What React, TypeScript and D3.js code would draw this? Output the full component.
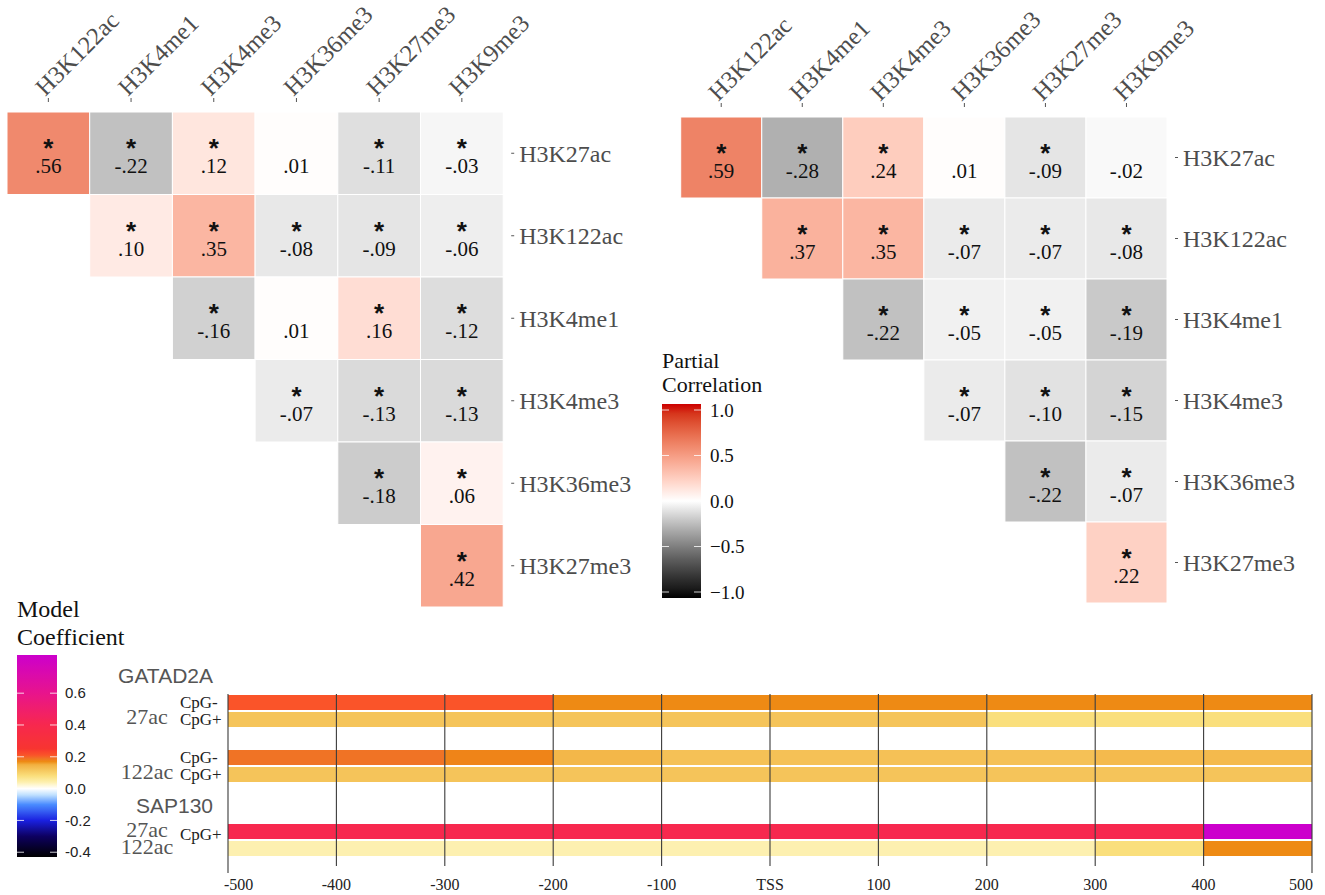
import React from "react";
import * as d3 from "d3";

// ---------- DATA ----------
const rowLabels = ["H3K27ac", "H3K122ac", "H3K4me1", "H3K4me3", "H3K36me3", "H3K27me3"];
const colLabels = ["H3K122ac", "H3K4me1", "H3K4me3", "H3K36me3", "H3K27me3", "H3K9me3"];

// upper-triangular rows: row i starts at column i
const leftValues = [
  [0.56, -0.22, 0.12, 0.01, -0.11, -0.03],
  [0.10, 0.35, -0.08, -0.09, -0.06],
  [-0.16, 0.01, 0.16, -0.12],
  [-0.07, -0.13, -0.13],
  [-0.18, 0.06],
  [0.42],
];
const leftSig = [
  [1, 1, 1, 0, 1, 1],
  [1, 1, 1, 1, 1],
  [1, 0, 1, 1],
  [1, 1, 1],
  [1, 1],
  [1],
];
const rightValues = [
  [0.59, -0.28, 0.24, 0.01, -0.09, -0.02],
  [0.37, 0.35, -0.07, -0.07, -0.08],
  [-0.22, -0.05, -0.05, -0.19],
  [-0.07, -0.10, -0.15],
  [-0.22, -0.07],
  [0.22],
];
const rightSig = [
  [1, 1, 1, 0, 1, 0],
  [1, 1, 1, 1, 1],
  [1, 1, 1, 1],
  [1, 1, 1],
  [1, 1],
  [1],
];

const corrLegendTicks = [1, 0.5, 0, -0.5, -1];
const corrLegendLabels = ["1.0", "0.5", "0.0", "\u22120.5", "\u22121.0"];

// bottom panel: positions relative to TSS
const positionTicks = [-500, -400, -300, -200, -100, 0, 100, 200, 300, 400, 500];
const positionLabels = ["-500", "-400", "-300", "-200", "-100", "TSS", "100", "200", "300", "400", "500"];

// coefficients for each 100bp bin from -500 to 500
const gatad2a27acCpGminus = [0.21, 0.21, 0.21, 0.17, 0.17, 0.17, 0.17, 0.17, 0.17, 0.17];
const gatad2a27acCpGplus = [0.12, 0.12, 0.12, 0.12, 0.12, 0.12, 0.12, 0.08, 0.08, 0.08];
const gatad2a122acCpGminus = [0.19, 0.19, 0.175, 0.14, 0.125, 0.125, 0.125, 0.125, 0.135, 0.135];
const gatad2a122acCpGplus = [0.12, 0.12, 0.12, 0.12, 0.12, 0.12, 0.12, 0.12, 0.12, 0.12];
const sap130_27acCpGplus = [0.4, 0.4, 0.4, 0.4, 0.4, 0.4, 0.4, 0.4, 0.4, 0.84];
const sap130_122acCpGplus = [0.04, 0.04, 0.04, 0.04, 0.04, 0.04, 0.04, 0.04, 0.08, 0.17];

const coefLegendTicks = [-0.4, -0.2, 0, 0.2, 0.4, 0.6];
const coefLegendLabels = ["-0.4", "-0.2", "0.0", "0.2", "0.4", "0.6"];
const coefDomain = [-0.43, 0.84];

const coefStops = [-0.43, -0.3, -0.2, -0.1, -0.04, 0, 0.04, 0.08, 0.12, 0.15, 0.17, 0.19, 0.21, 0.25, 0.4, 0.6, 0.84];
const coefColors = [
  "#000000", "#0d0060", "#1a20e0", "#4a8cff", "#bfe0ff", "#ffffff",
  "#fdf0b0", "#fadf7c", "#f5c45a", "#f2b040", "#ee8a14", "#f07325",
  "#fa5429", "#f73530", "#f7284e", "#e8148c", "#cc00cc",
];

// ---------- SCALES ----------
const corrColor = d3
  .scaleLinear<string>()
  .domain([-1, 0, 1])
  .range(["#000000", "#ffffff", "#cc0000"])
  .interpolate(d3.interpolateLab);

const coefColor = d3.scaleLinear<string>().domain(coefStops).range(coefColors).clamp(true);

const fmt = (v: number) => d3.format(".2f")(v).replace("\u2212", "-").replace("0.", ".");

const SERIF = "'Liberation Serif', 'Times New Roman', serif";
const SANS = "'Liberation Sans', Arial, sans-serif";
const LABEL_GREY = "#4d4d4d";

type HeatProps = {
  x0: number;
  y0: number;
  cell: number;
  cellH: number;
  values: number[][];
  sig: number[][];
};

function Heatmap({ x0, y0, cell, cellH, values, sig }: HeatProps) {
  const xs = d3.scaleBand<string>().domain(colLabels).range([x0, x0 + cell * 6]);
  const ys = d3.scaleBand<string>().domain(rowLabels).range([y0, y0 + cellH * 6]);
  const right = x0 + cell * 6;
  const tickY = y0 - 12;
  return (
    <g>
      {values.map((row, i) =>
        row.map((v, k) => {
          const j = i + k;
          const x = xs(colLabels[j])!;
          const y = ys(rowLabels[i])!;
          const cx = x + xs.bandwidth() / 2;
          const cy = y + ys.bandwidth() / 2;
          return (
            <g key={`${i}-${j}`}>
              <rect x={x} y={y} width={xs.bandwidth()} height={ys.bandwidth()} fill={corrColor(v)} stroke="#ffffff" strokeWidth={1} />
              <text textAnchor="middle" fill="#111">
                {sig[i][k] ? (
                  <tspan x={cx} y={cy + 4} fontFamily={SANS} fontWeight="bold" fontSize={26}>
                    *
                  </tspan>
                ) : null}
                <tspan x={cx} y={cy + 20} fontFamily={SERIF} fontSize={21}>
                  {fmt(v)}
                </tspan>
              </text>
            </g>
          );
        })
      )}
      {colLabels.map((c) => {
        const cx = xs(c)! + xs.bandwidth() / 2;
        return (
          <g key={c}>
            <line x1={cx} x2={cx} y1={tickY - 2} y2={tickY + 2} stroke="#555" strokeWidth={1} />
            <text
              transform={`translate(${cx - 3},${tickY - 3}) rotate(-45)`}
              fontFamily={SERIF}
              fontSize={24.5}
              fill={LABEL_GREY}
            >
              {c}
            </text>
          </g>
        );
      })}
      {rowLabels.map((r) => {
        const cy = ys(r)! + ys.bandwidth() / 2;
        return (
          <g key={r}>
            <line x1={right + 8} x2={right + 11} y1={cy} y2={cy} stroke="#555" strokeWidth={1} />
            <text x={right + 16} y={cy} dy="0.35em" fontFamily={SERIF} fontSize={24} fill={LABEL_GREY}>
              {r}
            </text>
          </g>
        );
      })}
    </g>
  );
}

export default function App() {
  // partial correlation legend
  const corrY = d3.scaleLinear().domain([-1, 1]).range([592, 410]);
  const corrBarX = 662;
  const corrBarW = 39;
  const corrStops = d3.range(0, 21).map((i) => -1 + i * 0.1);

  // coefficient legend
  const coefY = d3.scaleLinear().domain(coefDomain).range([857, 655]);
  const coefBarX = 17;
  const coefBarW = 40;
  const coefGradStops = d3.range(0, 128).map((i) => coefDomain[0] + (i / 127) * (coefDomain[1] - coefDomain[0]));

  // bottom panel
  const px = d3.scaleLinear().domain([-500, 500]).range([228, 1312]);
  const bins = d3.range(-500, 500, 100);
  const tracks = [
    { vals: gatad2a27acCpGminus, y: 695 },
    { vals: gatad2a27acCpGplus, y: 712 },
    { vals: gatad2a122acCpGminus, y: 750 },
    { vals: gatad2a122acCpGplus, y: 767 },
    { vals: sap130_27acCpGplus, y: 824 },
    { vals: sap130_122acCpGplus, y: 841 },
  ];
  const trackH = 15;

  return (
    <svg
      width={1325}
      height={895}
      style={{ position: "absolute", left: 0, top: 0, background: "#fff" }}
      xmlns="http://www.w3.org/2000/svg"
    >
      <defs>
        <linearGradient id="corrGrad" x1="0" y1="1" x2="0" y2="0">
          {corrStops.map((v, i) => (
            <stop key={i} offset={`${(i / 20) * 100}%`} stopColor={corrColor(v)} />
          ))}
        </linearGradient>
        <linearGradient id="coefGrad" x1="0" y1="1" x2="0" y2="0">
          {coefGradStops.map((v, i) => (
            <stop key={i} offset={`${(i / 127) * 100}%`} stopColor={coefColor(v)} />
          ))}
        </linearGradient>
      </defs>
      <rect x={0} y={0} width={1325} height={895} fill="#fff" />

      <Heatmap x0={7} y0={112} cell={82.7} cellH={82.5} values={leftValues} sig={leftSig} />
      <Heatmap x0={680.7} y0={117} cell={81.05} cellH={81} values={rightValues} sig={rightSig} />

      {/* Partial correlation legend */}
      <text x={corrBarX} y={368} fontFamily={SERIF} fontSize={22} fill="#111">Partial</text>
      <text x={corrBarX} y={392} fontFamily={SERIF} fontSize={22} fill="#111">Correlation</text>
      <rect x={corrBarX} y={corrY(1) - 6} width={corrBarW} height={corrY(-1) - corrY(1) + 12} fill="url(#corrGrad)" />
      {corrLegendTicks.map((t, i) => (
        <g key={t}>
          <line x1={corrBarX} x2={corrBarX + 7} y1={corrY(t)} y2={corrY(t)} stroke="#fff" strokeWidth={1} opacity={0.8} />
          <line x1={corrBarX + corrBarW - 7} x2={corrBarX + corrBarW} y1={corrY(t)} y2={corrY(t)} stroke="#fff" strokeWidth={1} opacity={0.8} />
          <text x={corrBarX + corrBarW + 9} y={corrY(t)} dy="0.35em" fontFamily={SERIF} fontSize={19} fill="#111">
            {corrLegendLabels[i]}
          </text>
        </g>
      ))}

      {/* Model coefficient legend */}
      <text x={coefBarX} y={617} fontFamily={SERIF} fontSize={24} fill="#111">Model</text>
      <text x={coefBarX} y={645} fontFamily={SERIF} fontSize={24} fill="#111">Coefficient</text>
      <rect x={coefBarX} y={coefY(coefDomain[1])} width={coefBarW} height={coefY(coefDomain[0]) - coefY(coefDomain[1])} fill="url(#coefGrad)" />
      {coefLegendTicks.map((t, i) => (
        <g key={t}>
          <line x1={coefBarX} x2={coefBarX + 7} y1={coefY(t)} y2={coefY(t)} stroke="#fff" strokeWidth={1} opacity={0.8} />
          <line x1={coefBarX + coefBarW - 7} x2={coefBarX + coefBarW} y1={coefY(t)} y2={coefY(t)} stroke="#fff" strokeWidth={1} opacity={0.8} />
          <text x={coefBarX + coefBarW + 8} y={coefY(t)} dy="0.35em" fontFamily={SANS} fontSize={15} fill="#222">
            {coefLegendLabels[i]}
          </text>
        </g>
      ))}

      {/* Bottom panel labels */}
      <text x={213} y={683} textAnchor="end" fontFamily={SANS} fontSize={21} fill="#555">GATAD2A</text>
      <text x={147} y={716} dy="0.35em" textAnchor="middle" fontFamily={SERIF} fontSize={22} fill="#555">27ac</text>
      <text x={180} y={702} dy="0.35em" fontFamily={SERIF} fontSize={17} fill="#222">CpG-</text>
      <text x={180} y={719} dy="0.35em" fontFamily={SERIF} fontSize={17} fill="#222">CpG+</text>
      <text x={147} y={771} dy="0.35em" textAnchor="middle" fontFamily={SERIF} fontSize={22} fill="#555">122ac</text>
      <text x={180} y={757} dy="0.35em" fontFamily={SERIF} fontSize={17} fill="#222">CpG-</text>
      <text x={180} y={774} dy="0.35em" fontFamily={SERIF} fontSize={17} fill="#222">CpG+</text>
      <text x={213} y={813} textAnchor="end" fontFamily={SANS} fontSize={21} fill="#555">SAP130</text>
      <text x={147} y={829} dy="0.35em" textAnchor="middle" fontFamily={SERIF} fontSize={22} fill="#555">27ac</text>
      <text x={147} y={846} dy="0.35em" textAnchor="middle" fontFamily={SERIF} fontSize={22} fill="#555">122ac</text>
      <text x={180} y={834} dy="0.35em" fontFamily={SERIF} fontSize={17} fill="#222">CpG+</text>

      {/* Bars */}
      {tracks.map((tr, ti) =>
        tr.vals.map((v, bi) => (
          <rect
            key={`${ti}-${bi}`}
            x={px(bins[bi])}
            y={tr.y}
            width={px(bins[bi] + 100) - px(bins[bi])}
            height={trackH}
            fill={coefColor(v)}
          />
        ))
      )}

      {/* Grid lines and axis labels */}
      {positionTicks.map((t, i) => {
        const end = i === 0 || i === positionTicks.length - 1;
        const anchor = i === 0 ? "start" : i === positionTicks.length - 1 ? "end" : "middle";
        const lx = i === 0 ? px(t) - 4 : i === positionTicks.length - 1 ? px(t) + 1 : px(t);
        return (
          <g key={t}>
            <line x1={px(t)} x2={px(t)} y1={694} y2={end ? 873 : 866} stroke="#3a3a3a" strokeWidth={1.1} />
            <text x={lx} y={890} textAnchor={anchor} fontFamily={SERIF} fontSize={16} fill="#222">
              {positionLabels[i]}
            </text>
          </g>
        );
      })}
    </svg>
  );
}
